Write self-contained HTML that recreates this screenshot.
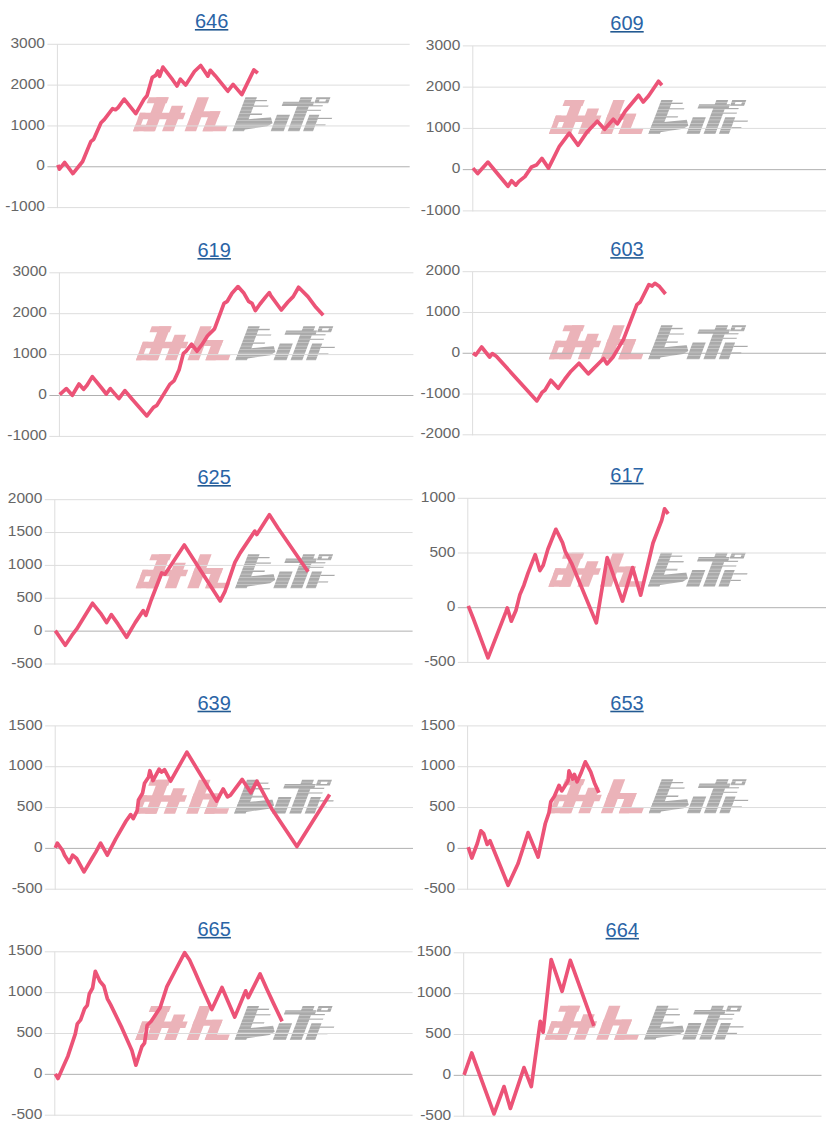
<!DOCTYPE html>
<html><head><meta charset="utf-8"><style>
html,body{margin:0;padding:0;background:#fff;}
body{width:826px;height:1135px;overflow:hidden;}
svg{display:block;}
.lab{font-family:"Liberation Sans",sans-serif;font-size:15.5px;fill:#666;}
.ttl{font-family:"Liberation Sans",sans-serif;font-size:20px;fill:#2a64a6;}
</style></head><body>
<svg width="826" height="1135" viewBox="0 0 826 1135">
<defs>
<mask id="sm" maskUnits="userSpaceOnUse" x="90" y="-5" width="130" height="45"><rect x="90" y="-5" width="130" height="45" fill="#fff"/><g fill="#000" fill-opacity="0.4"><rect x="100" y="2.0" width="120" height="0.7"/><rect x="100" y="5.5" width="120" height="0.7"/><rect x="100" y="9.0" width="120" height="0.7"/><rect x="100" y="12.5" width="120" height="0.7"/><rect x="100" y="16.0" width="120" height="0.7"/><rect x="100" y="19.5" width="120" height="0.7"/><rect x="100" y="23.0" width="120" height="0.7"/><rect x="100" y="26.5" width="120" height="0.7"/><rect x="100" y="30.0" width="120" height="0.7"/><rect x="100" y="33.5" width="120" height="0.7"/></g></mask>
<g id="logo" transform="skewX(-20.8)">
<g fill="#ebb3b9"><rect x="16" y="0" width="20" height="6"/><rect x="23.5" y="0" width="11.5" height="34"/><rect x="13" y="15.5" width="45.5" height="6.5"/><rect x="13" y="15.5" width="5.5" height="18.5"/><rect x="13" y="27.5" width="21" height="6.5"/><rect x="42" y="8.5" width="11.5" height="25.5"/><rect x="64.5" y="0" width="11.5" height="34"/><rect x="64.5" y="13.8" width="28.3" height="6"/><rect x="82.5" y="13.8" width="10.3" height="20.2"/><rect x="82.5" y="28.5" width="23" height="5.5"/></g>
<g fill="#aaaaaa" mask="url(#sm)"><rect x="112.5" y="0" width="11.5" height="34"/><rect x="120" y="2.6" width="15.2" height="1.4"/><rect x="118" y="8.2" width="20.7" height="1.4"/><rect x="118" y="16" width="17.5" height="1.6"/><polygon points="112.5,22.5 123.8,22 145.5,19.8 149.4,25.8 145.4,28.9 112.5,34"/><rect x="167.6" y="0" width="11.8" height="34"/><rect x="152" y="4.3" width="31" height="4.3"/><rect x="178" y="8.0" width="15" height="1.2"/><rect x="179" y="12.5" width="14" height="1.2"/><rect x="150.6" y="17.3" width="13" height="16.7"/><rect x="183" y="17.3" width="10" height="16.7"/><rect x="193" y="20.5" width="14" height="1.2"/><rect x="193" y="27" width="10" height="1.2"/><path fill-rule="evenodd" d="M183.5,0 H197.5 V6 H183.5 Z M187.5,2 H194 V4.2 H187.5 Z"/></g>
</g>
</defs>

<g><use href="#logo" transform="translate(132.95,97.35)"/>
<line x1="47.4" y1="44.30" x2="409.7" y2="44.30" stroke="#dddddd" stroke-width="1"/>
<text class="lab" x="44.90" y="47.90" text-anchor="end">3000</text>
<line x1="47.4" y1="85.12" x2="409.7" y2="85.12" stroke="#dddddd" stroke-width="1"/>
<text class="lab" x="44.90" y="88.72" text-anchor="end">2000</text>
<line x1="47.4" y1="125.95" x2="409.7" y2="125.95" stroke="#dddddd" stroke-width="1"/>
<text class="lab" x="44.90" y="129.55" text-anchor="end">1000</text>
<line x1="47.4" y1="166.78" x2="409.7" y2="166.78" stroke="#b0b0b0" stroke-width="1"/>
<text class="lab" x="44.90" y="170.38" text-anchor="end">0</text>
<line x1="47.4" y1="207.60" x2="409.7" y2="207.60" stroke="#dddddd" stroke-width="1"/>
<text class="lab" x="44.90" y="211.20" text-anchor="end">-1000</text>
<line x1="57.4" y1="44.3" x2="57.4" y2="208.1" stroke="#dddddd" stroke-width="1"/>
<polyline points="57.9,164.9 59.4,169.2 64.7,162.5 72.9,173.6 82.6,161.5 90.8,141.6 93.7,139.2 101.0,122.8 104.4,119.4 112.6,108.7 115.5,109.7 117.9,107.8 124.2,99.1 135.8,113.6 144.1,99.1 147.0,95.7 152.3,77.3 155.7,75.3 158.1,71.0 159.6,76.3 162.9,67.1 172.6,79.7 177.0,86.0 180.4,79.2 185.7,85.0 194.4,71.5 200.7,65.5 207.9,76.1 210.3,70.3 215.2,75.7 227.8,91.2 233.1,84.4 241.8,94.6 253.9,69.9 257.8,73.2" fill="none" stroke="#ec5377" stroke-width="3.7" stroke-linejoin="round"/>
<text class="ttl" x="211.6" y="27.6" text-anchor="middle">646</text>
<rect x="194.90" y="29.00" width="33.4" height="1.6" fill="#235a92"/></g>
<g><use href="#logo" transform="translate(548.8,99.95)"/>
<line x1="462.8" y1="45.90" x2="826" y2="45.90" stroke="#dddddd" stroke-width="1"/>
<text class="lab" x="460.30" y="49.50" text-anchor="end">3000</text>
<line x1="462.8" y1="87.15" x2="826" y2="87.15" stroke="#dddddd" stroke-width="1"/>
<text class="lab" x="460.30" y="90.75" text-anchor="end">2000</text>
<line x1="462.8" y1="128.40" x2="826" y2="128.40" stroke="#dddddd" stroke-width="1"/>
<text class="lab" x="460.30" y="132.00" text-anchor="end">1000</text>
<line x1="462.8" y1="169.65" x2="826" y2="169.65" stroke="#b0b0b0" stroke-width="1"/>
<text class="lab" x="460.30" y="173.25" text-anchor="end">0</text>
<line x1="462.8" y1="210.90" x2="826" y2="210.90" stroke="#dddddd" stroke-width="1"/>
<text class="lab" x="460.30" y="214.50" text-anchor="end">-1000</text>
<line x1="472.8" y1="45.9" x2="472.8" y2="211.4" stroke="#dddddd" stroke-width="1"/>
<polyline points="472.9,168.1 477.7,173.6 488.0,162.1 495.9,171.7 508.0,186.3 511.6,180.8 515.8,185.1 518.9,181.4 524.9,176.6 531.6,166.9 536.4,165.1 541.9,158.4 548.5,168.1 553.4,158.4 559.4,146.3 569.3,133.2 578.0,145.2 586.6,132.6 597.3,121.3 604.6,129.3 613.3,119.3 617.3,123.9 625.2,111.3 638.6,95.3 643.2,102.0 648.5,96.0 658.5,81.3 661.9,85.3" fill="none" stroke="#ec5377" stroke-width="3.7" stroke-linejoin="round"/>
<text class="ttl" x="627" y="29.5" text-anchor="middle">609</text>
<rect x="610.30" y="31.00" width="33.4" height="1.6" fill="#235a92"/></g>
<g><use href="#logo" transform="translate(135.8,326.25)"/>
<line x1="49.4" y1="272.80" x2="413.4" y2="272.80" stroke="#dddddd" stroke-width="1"/>
<text class="lab" x="46.90" y="276.40" text-anchor="end">3000</text>
<line x1="49.4" y1="313.70" x2="413.4" y2="313.70" stroke="#dddddd" stroke-width="1"/>
<text class="lab" x="46.90" y="317.30" text-anchor="end">2000</text>
<line x1="49.4" y1="354.60" x2="413.4" y2="354.60" stroke="#dddddd" stroke-width="1"/>
<text class="lab" x="46.90" y="358.20" text-anchor="end">1000</text>
<line x1="49.4" y1="395.50" x2="413.4" y2="395.50" stroke="#b0b0b0" stroke-width="1"/>
<text class="lab" x="46.90" y="399.10" text-anchor="end">0</text>
<line x1="49.4" y1="436.40" x2="413.4" y2="436.40" stroke="#dddddd" stroke-width="1"/>
<text class="lab" x="46.90" y="440.00" text-anchor="end">-1000</text>
<line x1="59.4" y1="272.8" x2="59.4" y2="436.9" stroke="#dddddd" stroke-width="1"/>
<polyline points="59.7,394.6 66.3,388.6 72.3,395.3 79.0,384.0 83.6,389.3 87.0,385.3 92.3,376.6 101.6,388.0 106.3,394.0 110.3,388.6 118.9,398.6 124.9,390.6 132.2,399.3 146.9,415.9 153.5,407.3 156.9,405.3 169.8,384.4 174.2,380.6 179.1,369.7 183.4,353.4 186.1,351.2 191.6,344.1 197.0,351.2 201.9,344.7 207.4,336.0 214.5,328.9 224.0,303.3 227.3,301.3 232.0,293.3 238.0,286.6 244.0,293.3 248.6,301.3 252.0,303.3 255.3,310.6 260.0,304.0 265.9,296.6 269.3,292.6 270.6,295.3 281.3,310.0 287.9,302.0 293.2,296.6 298.6,287.3 307.9,296.6 315.9,307.3 323.2,315.3" fill="none" stroke="#ec5377" stroke-width="3.7" stroke-linejoin="round"/>
<text class="ttl" x="214.2" y="256.6" text-anchor="middle">619</text>
<rect x="197.50" y="258.00" width="33.4" height="1.6" fill="#235a92"/></g>
<g><use href="#logo" transform="translate(548.7,325.2)"/>
<line x1="462.6" y1="271.70" x2="826" y2="271.70" stroke="#dddddd" stroke-width="1"/>
<text class="lab" x="460.10" y="275.30" text-anchor="end">2000</text>
<line x1="462.6" y1="312.48" x2="826" y2="312.48" stroke="#dddddd" stroke-width="1"/>
<text class="lab" x="460.10" y="316.08" text-anchor="end">1000</text>
<line x1="462.6" y1="353.25" x2="826" y2="353.25" stroke="#b0b0b0" stroke-width="1"/>
<text class="lab" x="460.10" y="356.85" text-anchor="end">0</text>
<line x1="462.6" y1="394.02" x2="826" y2="394.02" stroke="#dddddd" stroke-width="1"/>
<text class="lab" x="460.10" y="397.62" text-anchor="end">-1000</text>
<line x1="462.6" y1="434.80" x2="826" y2="434.80" stroke="#dddddd" stroke-width="1"/>
<text class="lab" x="460.10" y="438.40" text-anchor="end">-2000</text>
<line x1="472.6" y1="271.7" x2="472.6" y2="435.3" stroke="#dddddd" stroke-width="1"/>
<polyline points="473.0,353.0 475.7,355.0 481.6,347.0 489.6,357.0 492.3,353.6 496.3,356.3 536.9,400.9 542.2,392.3 544.9,390.3 550.9,380.3 558.2,388.3 564.9,379.0 571.0,371.2 579.0,363.2 588.3,373.9 603.6,358.5 606.9,363.9 612.9,357.2 619.6,345.9 623.6,339.2 636.9,304.6 640.2,302.0 648.9,284.6 652.2,286.0 654.9,283.3 659.5,286.6 665.5,294.0" fill="none" stroke="#ec5377" stroke-width="3.7" stroke-linejoin="round"/>
<text class="ttl" x="627" y="256.1" text-anchor="middle">603</text>
<rect x="610.30" y="257.10" width="33.4" height="1.6" fill="#235a92"/></g>
<g><use href="#logo" transform="translate(135.6,554.3)"/>
<line x1="44.8" y1="499.70" x2="412.6" y2="499.70" stroke="#dddddd" stroke-width="1"/>
<text class="lab" x="42.30" y="503.30" text-anchor="end">2000</text>
<line x1="44.8" y1="532.56" x2="412.6" y2="532.56" stroke="#dddddd" stroke-width="1"/>
<text class="lab" x="42.30" y="536.16" text-anchor="end">1500</text>
<line x1="44.8" y1="565.42" x2="412.6" y2="565.42" stroke="#dddddd" stroke-width="1"/>
<text class="lab" x="42.30" y="569.02" text-anchor="end">1000</text>
<line x1="44.8" y1="598.28" x2="412.6" y2="598.28" stroke="#dddddd" stroke-width="1"/>
<text class="lab" x="42.30" y="601.88" text-anchor="end">500</text>
<line x1="44.8" y1="631.14" x2="412.6" y2="631.14" stroke="#b0b0b0" stroke-width="1"/>
<text class="lab" x="42.30" y="634.74" text-anchor="end">0</text>
<line x1="44.8" y1="664.00" x2="412.6" y2="664.00" stroke="#dddddd" stroke-width="1"/>
<text class="lab" x="42.30" y="667.60" text-anchor="end">-500</text>
<line x1="54.8" y1="499.7" x2="54.8" y2="664.5" stroke="#dddddd" stroke-width="1"/>
<polyline points="55.3,630.6 65.3,645.2 72.0,635.2 76.6,629.2 92.6,603.3 100.6,613.3 106.6,622.6 111.3,614.6 117.9,623.9 126.6,637.2 135.2,622.6 143.2,610.6 145.9,615.3 151.2,600.0 161.7,572.9 165.0,574.2 184.3,545.0 220.2,600.9 224.9,591.6 234.9,562.3 240.2,552.9 254.8,531.1 256.8,534.5 269.4,514.7 278.1,528.2 308.1,571.8" fill="none" stroke="#ec5377" stroke-width="3.7" stroke-linejoin="round"/>
<text class="ttl" x="214.2" y="483.8" text-anchor="middle">625</text>
<rect x="197.50" y="485.00" width="33.4" height="1.6" fill="#235a92"/></g>
<g><use href="#logo" transform="translate(548.3,552.8)"/>
<line x1="457.8" y1="498.30" x2="826" y2="498.30" stroke="#dddddd" stroke-width="1"/>
<text class="lab" x="455.30" y="501.90" text-anchor="end">1000</text>
<line x1="457.8" y1="553.00" x2="826" y2="553.00" stroke="#dddddd" stroke-width="1"/>
<text class="lab" x="455.30" y="556.60" text-anchor="end">500</text>
<line x1="457.8" y1="607.70" x2="826" y2="607.70" stroke="#b0b0b0" stroke-width="1"/>
<text class="lab" x="455.30" y="611.30" text-anchor="end">0</text>
<line x1="457.8" y1="662.40" x2="826" y2="662.40" stroke="#dddddd" stroke-width="1"/>
<text class="lab" x="455.30" y="666.00" text-anchor="end">-500</text>
<line x1="467.8" y1="498.3" x2="467.8" y2="662.9" stroke="#dddddd" stroke-width="1"/>
<polyline points="468.3,605.9 473.3,618.5 488.0,657.8 505.9,611.9 507.3,607.9 511.3,621.2 515.9,610.5 519.9,594.6 523.9,585.2 527.9,573.3 535.2,554.6 539.9,570.6 543.2,565.3 547.9,549.3 555.9,529.3 562.5,542.6 565.2,551.3 571.6,563.3 596.3,622.9 607.2,557.5 622.5,601.1 632.6,567.6 640.6,595.2 653.0,543.0 661.7,520.4 664.6,508.8 668.2,513.9" fill="none" stroke="#ec5377" stroke-width="3.7" stroke-linejoin="round"/>
<text class="ttl" x="627" y="481.6" text-anchor="middle">617</text>
<rect x="610.30" y="482.80" width="33.4" height="1.6" fill="#235a92"/></g>
<g><use href="#logo" transform="translate(134.5,779.8)"/>
<line x1="45.2" y1="725.90" x2="413" y2="725.90" stroke="#dddddd" stroke-width="1"/>
<text class="lab" x="42.70" y="729.50" text-anchor="end">1500</text>
<line x1="45.2" y1="766.73" x2="413" y2="766.73" stroke="#dddddd" stroke-width="1"/>
<text class="lab" x="42.70" y="770.33" text-anchor="end">1000</text>
<line x1="45.2" y1="807.55" x2="413" y2="807.55" stroke="#dddddd" stroke-width="1"/>
<text class="lab" x="42.70" y="811.15" text-anchor="end">500</text>
<line x1="45.2" y1="848.38" x2="413" y2="848.38" stroke="#b0b0b0" stroke-width="1"/>
<text class="lab" x="42.70" y="851.98" text-anchor="end">0</text>
<line x1="45.2" y1="889.20" x2="413" y2="889.20" stroke="#dddddd" stroke-width="1"/>
<text class="lab" x="42.70" y="892.80" text-anchor="end">-500</text>
<line x1="55.2" y1="725.9" x2="55.2" y2="889.7" stroke="#dddddd" stroke-width="1"/>
<polyline points="55.3,847.9 57.3,843.2 62.6,850.5 64.6,855.2 69.3,862.5 72.6,855.2 76.6,858.5 84.0,871.9 91.9,858.5 95.9,851.9 100.6,843.2 107.3,855.2 115.9,838.6 125.9,821.3 130.6,814.6 133.2,818.6 137.2,810.6 138.5,800.0 142.5,793.3 144.5,783.3 148.5,777.3 149.9,770.7 153.0,780.6 159.1,769.1 161.5,772.1 164.5,769.7 170.6,781.2 186.9,752.1 216.6,801.1 223.2,789.0 227.5,796.9 230.5,795.1 242.2,779.4 250.9,792.7 256.9,781.2 271.5,808.4 296.9,846.6 329.6,794.5" fill="none" stroke="#ec5377" stroke-width="3.7" stroke-linejoin="round"/>
<text class="ttl" x="214.2" y="710" text-anchor="middle">639</text>
<rect x="197.50" y="710.70" width="33.4" height="1.6" fill="#235a92"/></g>
<g><use href="#logo" transform="translate(549.2,779.3)"/>
<line x1="457.6" y1="725.90" x2="826" y2="725.90" stroke="#dddddd" stroke-width="1"/>
<text class="lab" x="455.10" y="729.50" text-anchor="end">1500</text>
<line x1="457.6" y1="766.73" x2="826" y2="766.73" stroke="#dddddd" stroke-width="1"/>
<text class="lab" x="455.10" y="770.33" text-anchor="end">1000</text>
<line x1="457.6" y1="807.55" x2="826" y2="807.55" stroke="#dddddd" stroke-width="1"/>
<text class="lab" x="455.10" y="811.15" text-anchor="end">500</text>
<line x1="457.6" y1="848.38" x2="826" y2="848.38" stroke="#b0b0b0" stroke-width="1"/>
<text class="lab" x="455.10" y="851.98" text-anchor="end">0</text>
<line x1="457.6" y1="889.20" x2="826" y2="889.20" stroke="#dddddd" stroke-width="1"/>
<text class="lab" x="455.10" y="892.80" text-anchor="end">-500</text>
<line x1="467.6" y1="725.9" x2="467.6" y2="889.7" stroke="#dddddd" stroke-width="1"/>
<polyline points="468.2,847.1 471.8,858.0 477.3,843.5 480.9,830.8 483.6,833.5 487.2,844.4 490.0,840.8 508.1,885.3 518.1,863.5 528.1,832.6 538.1,857.1 545.3,823.5 549.0,812.6 550.8,801.8 554.4,796.3 559.0,785.4 561.7,790.9 568.0,780.9 569.0,770.9 572.6,779.1 574.4,774.5 577.1,781.8 580.8,773.6 585.3,761.8 590.7,771.8 594.4,782.7 598.9,792.7" fill="none" stroke="#ec5377" stroke-width="3.7" stroke-linejoin="round"/>
<text class="ttl" x="627" y="709.8" text-anchor="middle">653</text>
<rect x="610.30" y="710.70" width="33.4" height="1.6" fill="#235a92"/></g>
<g><use href="#logo" transform="translate(135.1,1006.0)"/>
<line x1="44.8" y1="951.80" x2="412.6" y2="951.80" stroke="#dddddd" stroke-width="1"/>
<text class="lab" x="42.30" y="955.40" text-anchor="end">1500</text>
<line x1="44.8" y1="992.65" x2="412.6" y2="992.65" stroke="#dddddd" stroke-width="1"/>
<text class="lab" x="42.30" y="996.25" text-anchor="end">1000</text>
<line x1="44.8" y1="1033.50" x2="412.6" y2="1033.50" stroke="#dddddd" stroke-width="1"/>
<text class="lab" x="42.30" y="1037.10" text-anchor="end">500</text>
<line x1="44.8" y1="1074.35" x2="412.6" y2="1074.35" stroke="#b0b0b0" stroke-width="1"/>
<text class="lab" x="42.30" y="1077.95" text-anchor="end">0</text>
<line x1="44.8" y1="1115.20" x2="412.6" y2="1115.20" stroke="#dddddd" stroke-width="1"/>
<text class="lab" x="42.30" y="1118.80" text-anchor="end">-500</text>
<line x1="54.8" y1="951.8" x2="54.8" y2="1115.7" stroke="#dddddd" stroke-width="1"/>
<polyline points="55.3,1073.8 58.0,1078.5 63.3,1066.5 68.0,1055.9 73.3,1039.9 75.3,1033.9 77.3,1023.9 80.6,1019.9 84.6,1008.6 87.3,1005.3 89.3,994.0 92.6,988.0 95.3,971.3 99.9,981.3 103.9,986.0 107.3,998.6 110.6,1004.6 121.9,1027.9 131.9,1050.5 135.9,1065.2 141.9,1046.5 144.5,1043.2 147.2,1025.2 151.2,1021.3 156.5,1013.3 160.1,1007.8 166.9,986.6 175.3,970.5 184.7,952.7 189.7,960.3 194.8,971.4 199.9,983.2 211.8,1009.5 222.0,987.5 234.7,1017.1 245.7,990.8 248.2,997.6 260.1,973.9 266.9,989.2 273.6,1003.6 282.1,1021.4" fill="none" stroke="#ec5377" stroke-width="3.7" stroke-linejoin="round"/>
<text class="ttl" x="214.2" y="936" text-anchor="middle">665</text>
<rect x="197.50" y="936.90" width="33.4" height="1.6" fill="#235a92"/></g>
<g><use href="#logo" transform="translate(544.5,1005.8)"/>
<line x1="453.7" y1="952.80" x2="821.5" y2="952.80" stroke="#dddddd" stroke-width="1"/>
<text class="lab" x="451.20" y="956.40" text-anchor="end">1500</text>
<line x1="453.7" y1="993.65" x2="821.5" y2="993.65" stroke="#dddddd" stroke-width="1"/>
<text class="lab" x="451.20" y="997.25" text-anchor="end">1000</text>
<line x1="453.7" y1="1034.50" x2="821.5" y2="1034.50" stroke="#dddddd" stroke-width="1"/>
<text class="lab" x="451.20" y="1038.10" text-anchor="end">500</text>
<line x1="453.7" y1="1075.35" x2="821.5" y2="1075.35" stroke="#b0b0b0" stroke-width="1"/>
<text class="lab" x="451.20" y="1078.95" text-anchor="end">0</text>
<line x1="453.7" y1="1116.20" x2="821.5" y2="1116.20" stroke="#dddddd" stroke-width="1"/>
<text class="lab" x="451.20" y="1119.80" text-anchor="end">-500</text>
<line x1="463.7" y1="952.8" x2="463.7" y2="1116.7" stroke="#dddddd" stroke-width="1"/>
<polyline points="464.1,1074.8 471.7,1053.0 494.0,1113.9 504.0,1086.6 510.4,1108.4 524.0,1067.6 531.3,1086.6 540.3,1021.3 543.1,1032.2 551.2,959.5 562.1,991.3 570.3,960.4 593.9,1025.8" fill="none" stroke="#ec5377" stroke-width="3.7" stroke-linejoin="round"/>
<text class="ttl" x="622.3" y="937" text-anchor="middle">664</text>
<rect x="605.60" y="937.90" width="33.4" height="1.6" fill="#235a92"/></g>
</svg></body></html>
